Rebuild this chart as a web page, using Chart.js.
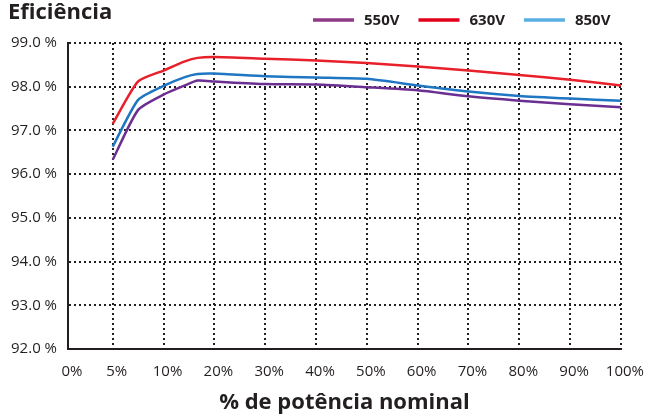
<!DOCTYPE html>
<html>
<head>
<meta charset="utf-8">
<script src="https://cdn.jsdelivr.net/npm/chart.js@4/dist/chart.umd.min.js"></script>
<style>html,body{margin:0;padding:0;background:#fff}</style>
</head>
<body>
<canvas id="effChart" width="654" height="414"></canvas>
<script>
// rótulos do eixo x
const xLabels = ['0%', '5%', '10%', '20%', '30%', '40%', '50%', '60%', '70%', '80%', '90%', '100%'];
// pontos (% de potência nominal)
const powerPct = [5, 7.5, 10, 14.2, 16.7, 20, 30, 40, 50, 60, 70, 80, 90, 100];
const eff550 = [96.33, 97.47, 97.82, 98.03, 98.14, 98.12, 98.06, 98.05, 97.99, 97.92, 97.78, 97.68, 97.60, 97.53];
const eff630 = [97.15, 98.12, 98.37, 98.58, 98.66, 98.68, 98.64, 98.60, 98.54, 98.46, 98.37, 98.27, 98.16, 98.03];
const eff850 = [96.63, 97.70, 98.02, 98.22, 98.29, 98.30, 98.24, 98.21, 98.18, 98.03, 97.89, 97.79, 97.73, 97.68];
const seriesNames = ['550V', '630V', '850V'];

const ink = '#231f20';
const font = 'Open Sans';

// o eixo x não é linear: 0-5-10 e depois de 10 em 10
function axisPos(p) {
    return p <= 10 ? p / 5 : p / 10 + 1;
}

function toPoints(values) {
    return powerPct.map((p, i) => ({ x: axisPos(p), y: values[i] }));
}

const tickPos = [0.12, 1, 2, 3, 4, 5, 6, 7, 8, 9, 10, 11];

// legenda desenhada na mesma linha do título
const legendLine = {
    id: 'legendLine',
    afterDraw(chart) {
        const ctx = chart.ctx;
        let x = 313;
        ctx.save();
        ctx.font = 'bold 15px "' + font + '"';
        ctx.textBaseline = 'alphabetic';
        chart.data.datasets.forEach(ds => {
            ctx.strokeStyle = ds.legendColor;
            ctx.lineWidth = 3.5;
            ctx.beginPath();
            ctx.moveTo(x, 20);
            ctx.lineTo(x + 41, 20);
            ctx.stroke();
            ctx.fillStyle = ink;
            ctx.fillText(ds.label, x + 51, 25);
            x += 51 + ctx.measureText(ds.label).width + 19;
        });
        ctx.restore();
    }
};

const effChart = new Chart(document.getElementById('effChart'), {
    type: 'line',
    data: {
        datasets: [
            { label: seriesNames[0], data: toPoints(eff550), borderColor: '#6b2f91', legendColor: '#8e3a86' },
            { label: seriesNames[1], data: toPoints(eff630), borderColor: '#e8202a', legendColor: '#e2001a' },
            { label: seriesNames[2], data: toPoints(eff850), borderColor: '#1f76c2', legendColor: '#5aaee2' }
        ]
    },
    options: {
        responsive: false,
        animation: false,
        datasets: {
            line: {
                borderWidth: 2.5,
                pointRadius: 0,
                fill: false,
                tension: 0.2
            }
        },
        layout: { padding: { left: 8, right: 32, top: 0, bottom: 0 } },
        plugins: {
            legend: { display: false },
            tooltip: { enabled: false },
            title: {
                display: true,
                text: 'Eficiência',
                align: 'start',
                color: ink,
                font: { family: font, size: 22, weight: 'bold' },
                padding: { top: 0, bottom: 16.6 }
            }
        },
        scales: {
            x: {
                type: 'linear',
                min: 0.12,
                max: 11,
                afterBuildTicks: s => { s.ticks = tickPos.map(v => ({ value: v })); },
                afterFit: s => { s.height = 65; },
                ticks: {
                    autoSkip: false,
                    maxRotation: 0,
                    padding: 14,
                    labelOffset: 4,
                    color: ink,
                    font: { family: font, size: 15 },
                    callback: (v, i) => xLabels[i]
                },
                grid: { color: ink, lineWidth: 2, drawTicks: false },
                border: { color: ink, width: 2, dash: [2, 3] },
                title: {
                    display: true,
                    text: '% de potência nominal',
                    color: ink,
                    font: { family: font, size: 22, weight: 'bold', lineHeight: 1 },
                    padding: 0
                }
            },
            y: {
                min: 92,
                max: 99,
                afterFit: s => { s.width = 60; },
                ticks: {
                    stepSize: 1,
                    padding: 11,
                    color: ink,
                    font: { family: font, size: 15 },
                    callback: v => v.toFixed(1) + ' %'
                },
                grid: { color: ink, lineWidth: 2, drawTicks: false },
                border: { color: ink, width: 2, dash: [2, 3] }
            }
        }
    },
    plugins: [legendLine]
});
</script>
</body>
</html>
